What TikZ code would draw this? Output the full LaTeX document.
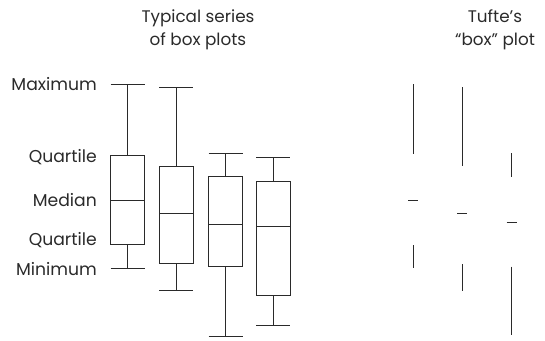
\documentclass[tikz,border=0pt]{standalone}
\usepackage{fontspec}
\setmainfont{Poppins}
\definecolor{ink}{HTML}{2A2A2A}
\begin{document}
\begin{tikzpicture}[x=1pt,y=-1pt,
  plotline/.style={draw=ink,line width=0.9pt},
  lbl/.style={text=ink,font=\fontsize{17.2}{18}\selectfont,inner sep=0pt,anchor=east},
  ttl/.style={text=ink,font=\fontsize{16.8}{23}\selectfont,align=center,inner sep=0pt}]
\useasboundingbox (0,0) rectangle (545,340);

% titles
\node[ttl] (ttlbox) at (198,30) {Typical series\\of box plots};
\node[ttl] (ttltufte) at (495,30) {Tufte’s\\“box” plot};

% axis labels
\node[lbl] (lmax) at (97,84) {Maximum};
\node[lbl] (lq3)  at (97,157) {Quartile};
\node[lbl] (lmed) at (97,200) {Median};
\node[lbl] (lq1)  at (97,240) {Quartile};
\node[lbl] (lmin) at (97,269) {Minimum};

% conventional box plots: centre x / max / upper quartile / median / lower quartile / min
\foreach \cx/\mx/\qa/\md/\qb/\mn in {127.7/84.3/155/200.3/244/268.3,
                                     176/87/166/213.7/263.3/290.3,
                                     225.7/153.7/176.7/224/266/336,
                                     273.3/157/181.3/226.7/295.3/325}{
  \draw[plotline] (\cx-17,\mx) -- (\cx+17,\mx);
  \draw[plotline] (\cx,\mx) -- (\cx,\qa);
  \draw[plotline] (\cx-17,\qa) rectangle (\cx+17,\qb);
  \draw[plotline] (\cx-17,\md) -- (\cx+17,\md);
  \draw[plotline] (\cx,\qb) -- (\cx,\mn);
  \draw[plotline] (\cx-17,\mn) -- (\cx+17,\mn);
}

% Tufte's reduced version: whiskers and a median tick only
\foreach \cx/\mx/\qa/\md/\qb/\mn in {413.3/84/154.3/200/245/268.3,
                                     462/87.3/165.7/213.7/264/290.7,
                                     511.7/153.3/176.7/222.7/266.7/335}{
  \draw[plotline] (\cx,\mx) -- (\cx,\qa);
  \draw[plotline] (\cx-5,\md) -- (\cx+5,\md);
  \draw[plotline] (\cx,\qb) -- (\cx,\mn);
}
\end{tikzpicture}
\end{document}
